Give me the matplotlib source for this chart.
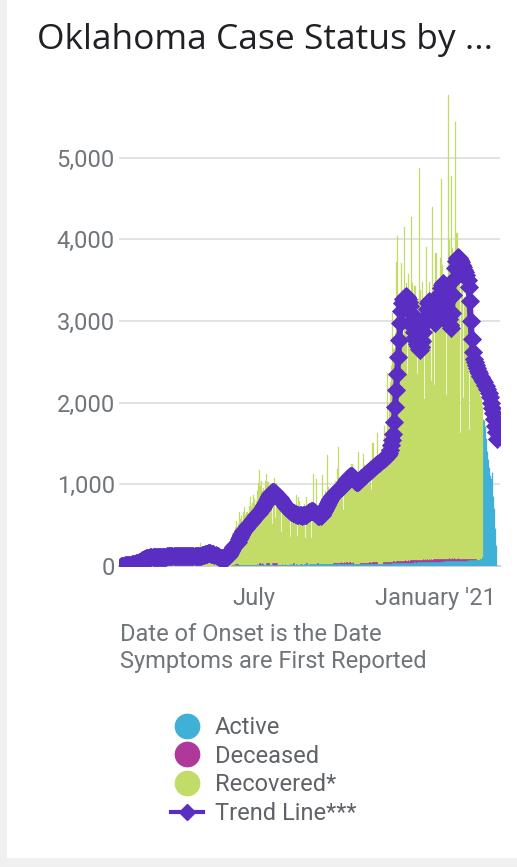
import numpy as np
import pandas as pd
import matplotlib
matplotlib.use("Agg")
import matplotlib.pyplot as plt
import matplotlib.dates as mdates
import matplotlib.transforms as mtransforms
from matplotlib.lines import Line2D
from matplotlib.patches import Rectangle

plt.rcParams['font.family'] = ['Roboto', 'DejaVu Sans']

# ---------------- data (daily, by date of onset) ----------------
start_date = "2020-02-25"

recovered = [
    1, 0, 2, 3, 5, 4, 8, 10, 12, 15,
    14, 20, 18, 25, 30, 35, 40, 52, 48, 60,
    72, 80, 76, 95, 98, 110, 100, 92, 118, 112,
    104, 120, 115, 98, 125, 110, 118, 122, 100, 108,
    126, 112, 105, 130, 118, 95, 120, 125, 110, 116,
    128, 104, 120, 115, 98, 132, 118, 112, 125, 108,
    120, 135, 110, 118, 128, 105, 122, 130, 112, 125,
    118, 140, 128, 115, 120, 135, 280, 130, 145, 138,
    150, 160, 142, 170, 155, 148, 175, 140, 150, 130,
    125, 145, 110, 95, 118, 100, 90, 105, 95, 110,
    120, 135, 160, 190, 230, 260,
    400, 300, 380, 450, 520, 430, 480, 650, 560, 600,
    520, 640, 700, 610, 650, 580, 720, 830, 700, 760,
    850, 800, 690, 780, 900, 1000, 1150, 950, 1010, 880,
    930, 820, 1020, 1090, 1000, 940, 970, 860, 480, 900,
    1050, 560, 980, 900, 850,
    850, 780, 400, 720, 760, 700, 650, 590, 720, 690,
    340, 640, 700, 660, 620, 580, 850, 350, 830, 780,
    700, 660, 560, 620, 740, 320, 810, 700, 650, 600,
    320, 620, 1110, 700, 650, 1050, 560, 620, 480, 720,
    800, 1090, 760, 820, 900, 700, 1340, 950, 880, 820,
    600, 900, 950, 1000, 880, 1150, 1420, 960, 1000,
    1050, 980, 650, 1020, 1100, 1050, 980, 1120, 1080, 1000,
    1210, 1050, 980, 880, 1000, 1100, 1380, 1120, 1060, 1000,
    900, 1330, 1200, 1150, 1080, 1180, 960, 1220, 1250, 890,
    1460, 1280, 1200, 1250, 1580, 1300, 1100, 1350, 1400, 1280,
    1420, 1660, 1450, 1500, 2310, 1750, 1900, 2200, 2400, 3050,
    2600, 2800, 3660,
    3990, 3100, 2900, 3200, 3650, 3000, 2700, 4090, 3300, 3400,
    2280, 3500, 3200, 3000, 4200, 3400, 3100, 3350, 3000, 2280,
    3200, 4790, 3300, 3150, 3400, 3100, 1970, 2900, 3830, 3250,
    3100, 3400, 2700, 2180, 4320, 3200, 2130, 3750, 3300, 2900,
    3100, 3690, 4660, 3600, 3400, 3200, 2800, 2000, 3300, 5680,
    3900, 3500, 4690, 3800, 3300, 3600, 5350, 3990, 3700, 3400,
    1540, 3500, 3300, 1970, 3200, 3150, 3100, 3000, 2850, 1580,
    2700, 2600, 2500, 2450, 2400, 2350, 2250, 2200, 2150, 2000,
    1950, 1850,
    0, 0, 0, 0, 0, 0, 0, 0, 0, 0, 0, 0, 0, 0,
]

deceased = [0] * 106 + [
    0, 0, 0, 12, 15, 10, 14, 0, 0, 0,
    0, 0, 0, 0, 0, 0, 0, 0, 0, 0,
    0, 0, 0, 0, 0, 0, 14, 16, 12, 15,
    13, 0, 0, 15, 14, 16, 0, 0, 14, 15,
    16, 13, 15, 14, 0, 0, 0, 0, 0, 0,
    0, 0, 0, 0, 0, 0, 0, 0, 15, 12,
    0, 0, 0, 0, 0, 0, 0, 0, 0, 0,
    0, 14, 13, 0, 0, 0, 0, 0, 0, 0,
    0, 15, 14, 0, 0, 0, 0, 0, 0, 0,
    0, 0, 0, 0, 0, 0, 14, 16, 15, 14,
    16, 15, 13, 14, 16, 15, 14, 16, 15, 17,
    15, 14, 16, 15, 14, 16, 0, 0, 0, 0,
    0, 0, 16, 17, 15, 16, 14, 17, 16, 15,
    17, 18, 16, 15, 17, 16, 18, 17, 16, 0,
    0, 0, 0, 0, 18, 20, 17, 22, 19, 21,
    23, 20, 24, 22, 25, 21, 26, 23, 28, 24,
    27, 25, 30, 26, 28, 32, 27, 29, 31, 26,
    30, 33, 28, 31, 35, 29, 32, 30, 34, 31,
    28, 33, 36, 30, 32, 29, 35, 31, 33, 30,
    34, 28, 32, 36, 30, 33, 29, 35, 31, 27,
    33, 30, 28, 34, 31, 29, 32, 35, 30, 28,
    31, 26, 33, 29, 27, 30, 25, 28, 24, 27,
    22, 25, 20, 23, 18, 21, 16, 19, 14, 17,
    12, 15, 10, 13, 0, 0, 0, 0, 0, 0,
    0, 0, 0, 0, 0, 0, 0, 0, 0, 0,
    0, 0, 0,
]

active = [0] * 106 + [
    10, 12, 14, 12, 15, 13, 16, 14, 15, 17,
    15, 16, 18, 14, 17, 16, 15, 18, 17, 16,
    18, 17, 15, 16, 19, 18, 17, 16, 18, 20,
    17, 16, 18, 19, 17, 18, 16, 17, 19, 18,
    16, 18, 17, 19, 18, 16, 17, 18, 20, 17,
    18, 19, 17, 16, 18, 19, 20, 18, 17, 19,
    18, 20, 19, 17, 18, 20, 19, 21, 18, 19,
    20, 19, 21, 18, 20, 22, 19, 20, 21, 22,
    20, 21, 23, 22, 20, 21, 23, 22, 24, 21,
    22, 24, 23, 22, 25, 24, 23, 25, 24, 26,
    25, 24, 26, 25, 27, 26, 25, 28, 27, 26,
    28, 27, 29, 28, 27, 30, 29, 28, 30, 29,
    22, 23, 22, 24, 23, 24, 25, 24, 25, 26,
    25, 26, 27, 26, 27, 28, 27, 28, 29, 28,
    29, 28, 29, 30, 29, 30, 31, 30, 31, 30,
    30, 31, 30, 32, 33, 32, 34, 33, 35, 34,
    36, 35, 37, 36, 38, 37, 39, 38, 40, 39,
    41, 40, 42, 41, 43, 42, 44, 43, 45, 44,
    46, 45, 47, 46, 48, 47, 49, 48, 50, 49,
    51, 50, 52, 51, 53, 52, 54, 53, 55, 54,
    56, 55, 57, 56, 58, 57, 59, 58, 60, 59,
    61, 60, 62, 61, 63, 62, 64, 63, 65, 64,
    66, 65, 67, 66, 68, 67, 69, 68, 70, 69,
    71, 70, 72, 71, 73, 75, 80, 90, 110,
    1790, 1780, 1700, 1550, 1400, 1300, 1200, 1100, 1060, 1140,
    850, 700, 450, 250,
]

trend = [
    0, 2, 4, 5, 7, 9, 11, 13, 15, 17,
    19, 21, 24, 28, 32, 37, 42, 48, 54, 61,
    68, 75, 82, 88, 93, 97, 101, 104, 106, 108,
    109, 110, 111, 112, 112, 113, 114, 114, 115, 115,
    116, 116, 115, 116, 117, 117, 118, 117, 118, 119,
    119, 120, 119, 118, 119, 120, 121, 120, 120, 121,
    122, 121, 122, 123, 124, 123, 122, 123, 124, 125,
    126, 125, 124, 125, 126, 126, 128, 131, 135, 139,
    144, 148, 152, 155, 156, 155, 152, 148, 143, 138,
    132, 125, 117, 110, 103, 99, 97, 97, 99, 102,
    106, 112, 122, 138, 158, 182, 208, 228, 246, 262,
    278, 300, 325, 352, 380, 408, 425, 440, 455, 470,
    484, 498, 512, 525, 540, 556, 572, 588, 604, 621,
    637, 653, 669, 686, 703, 720, 741, 763, 786, 810,
    834, 858, 880, 898, 910, 912, 906, 895, 880, 864,
    846, 828, 810, 792, 775, 758, 741, 725, 710, 697,
    686, 676, 667, 659, 652, 645, 639, 634, 629, 625,
    621, 619, 618, 619, 621, 625, 630, 637, 646, 656,
    666, 672, 673, 668, 659, 647, 634, 622, 614, 612,
    618, 630, 647, 668, 692, 718, 744, 770, 795, 818,
    838, 856, 872, 886, 898, 909, 919, 930, 940, 952,
    968, 986, 1005, 1025, 1045, 1063, 1080, 1093, 1102, 1106,
    1100, 1085, 1062, 1040, 1030, 1028, 1030, 1040, 1055, 1072,
    1090, 1105, 1118, 1128, 1138, 1148, 1158, 1168, 1178, 1190,
    1202, 1213, 1222, 1232, 1243, 1255, 1266, 1276, 1287, 1298,
    1310, 1322, 1335, 1348, 1362, 1380, 1420, 1480, 1540, 1620,
    1760, 1950, 2150, 2350, 2560, 2770, 2970, 3120, 3220, 3270,
    3300, 3305, 3295, 3270, 3230, 3180, 3100, 3010, 2930, 2860,
    2800, 2760, 2720, 2690, 2660, 2645, 2680, 2760, 2860, 2960,
    3060, 3150, 3220, 3250, 3235, 3180, 3100, 3040, 2990, 2980,
    3050, 3130, 3210, 3280, 3340, 3400, 3440, 3470, 3440, 3360,
    3250, 3140, 3030, 2950, 2920, 3100, 3320, 3520, 3650, 3740,
    3775, 3780, 3770, 3750, 3720, 3690, 3660, 3630, 3600, 3560,
    3500, 3420, 3250, 3000, 2780, 2620, 2540, 2500, 2460, 2420,
    2390, 2360, 2330, 2310, 2290, 2270, 2250, 2220, 2200, 2170,
    2120, 2070, 2000, 1930, 1870, 1800, 1720, 1640, 1560,
]

y_ticks = [0, 1000, 2000, 3000, 4000, 5000]
x_tick_dates = ["2020-07-01", "2021-01-01"]
x_tick_labels = ["July", "January '21"]
series_labels = ["Active", "Deceased", "Recovered*", "Trend Line***"]

# ---------------- styling ----------------
C_ACT = "#3fb0d6"
C_DEC = "#b0389b"
C_REC = "#c3dc67"
C_TR = "#5a2ec2"
C_TXT = "#70757a"
C_LEG = "#5f6368"

W, H = 517, 867
fig = plt.figure(figsize=(W / 100, H / 100), dpi=100)
fig.patch.set_facecolor("#f0f0f0")
fig.add_artist(Rectangle((7 / W, 9 / H), 1 - 7 / W, 1 - 9 / H,
                         transform=fig.transFigure, facecolor="white",
                         edgecolor="none", zorder=-10))

ax = fig.add_axes([119 / W, 1 - 566 / H, 381 / W, 490 / H])
ax.set_facecolor("none")

dates = pd.date_range(start_date, periods=len(trend), freq="D")
x = mdates.date2num(dates)
act = np.array(active, dtype=float)
dec = np.array(deceased, dtype=float)
rec = np.array(recovered, dtype=float)

ax.bar(x, act, width=1.0, color=C_ACT, edgecolor=C_ACT, linewidth=0.2, zorder=2)
ax.bar(x, dec, bottom=act, width=1.0, color=C_DEC, edgecolor=C_DEC, linewidth=0.2, zorder=2)
ax.bar(x, rec, bottom=act + dec, width=1.0, color=C_REC, edgecolor=C_REC, linewidth=0.2, zorder=2)
ax.plot(x, trend, color=C_TR, lw=4.5, marker="D", ms=9.4, mfc=C_TR, mec=C_TR,
        mew=0.6, zorder=4, solid_joinstyle="round", solid_capstyle="round")

x0 = mdates.date2num(pd.Timestamp(start_date))
ppd = 1.05  # pixels per day
ax.set_xlim(x0 - 2 / ppd, x0 + (381 - 2) / ppd)
ax.set_ylim(0, 6000)

ax.set_yticks(y_ticks)
ax.set_yticklabels([f"{v:,}" for v in y_ticks])
ax.yaxis.grid(True, color="#e2e2e2", lw=1.4, zorder=0)
ax.set_axisbelow(True)
ax.axhline(0, color="#cfcfcf", lw=1.4, zorder=1, clip_on=False)
for s in ax.spines.values():
    s.set_visible(False)

ax.set_xticks(mdates.date2num(pd.to_datetime(x_tick_dates)))
ax.set_xticklabels(x_tick_labels)
ax.tick_params(axis="y", length=0, pad=3, labelsize=17, labelcolor=C_TXT)
ax.tick_params(axis="x", length=0, pad=15, labelsize=17, labelcolor=C_TXT)
jan = ax.get_xticklabels()[1]
jan.set_transform(jan.get_transform() +
                  mtransforms.ScaledTranslation(-12 / 100, 0, fig.dpi_scale_trans))

fig.text(37 / W, 1 - 40 / H, "Oklahoma Case Status by ...", fontsize=25.5,
         family=["Open Sans", "DejaVu Sans"],
         color="#202124", ha="left", va="center")
fig.text(120 / W, 1 - 623 / H, "Date of Onset is the Date\nSymptoms are First Reported",
         fontsize=17, color=C_TXT, ha="left", va="top", linespacing=1.24)

handles = [
    Line2D([], [], ls="none", marker="o", ms=17.5, mfc=C_ACT, mec=C_ACT),
    Line2D([], [], ls="none", marker="o", ms=17.5, mfc=C_DEC, mec=C_DEC),
    Line2D([], [], ls="none", marker="o", ms=17.5, mfc=C_REC, mec=C_REC),
    Line2D([], [], color=C_TR, lw=3.0, marker="D", ms=8, mfc=C_TR, mec=C_TR),
]
fig.legend(handles, series_labels, loc="upper left",
           bbox_to_anchor=(171 / W, 1 - 716 / H), frameon=False, fontsize=17,
           labelcolor=C_LEG, handlelength=1.35, handletextpad=0.5,
           labelspacing=0.24, borderpad=0, borderaxespad=0)

fig.savefig("out.png", dpi=100, facecolor=fig.get_facecolor())
